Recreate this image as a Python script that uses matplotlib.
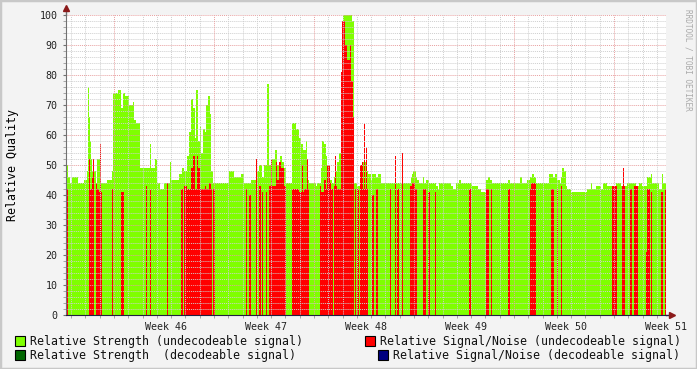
import numpy as np
import matplotlib.pyplot as plt
from matplotlib.patches import Rectangle

# one sample per pixel column: 600 samples over 6 weeks
STEP = 42 / 600  # days per sample

# Relative Strength (undecodeable signal): run-length steps (start sample, value)
green_start = [0, 2, 4, 6, 12, 18, 21, 22, 23, 24, 25, 26, 30, 31, 34, 41, 46, 47, 52, 55,
               57, 59, 63, 67, 68, 70, 74, 84, 85, 89, 91, 94, 98, 104, 105, 113, 116, 118, 121, 123,
               125, 127, 129, 130, 132, 134, 135, 137, 139, 140, 142, 144, 145, 147, 163, 168, 175, 178, 185, 190,
               193, 196, 198, 201, 203, 206, 209, 211, 214, 216, 218, 220, 226, 230, 233, 235, 237, 240, 241, 243,
               250, 251, 255, 256, 258, 260, 261, 263, 266, 268, 270, 271, 273, 275, 276, 277, 286, 288, 291, 295,
               296, 300, 302, 305, 306, 310, 312, 315, 345, 346, 347, 350, 351, 353, 357, 358, 360, 363, 370, 372,
               373, 385, 387, 390, 393, 395, 406, 412, 415, 420, 422, 424, 426, 442, 444, 454, 456, 461, 464, 466,
               468, 470, 483, 487, 489, 491, 494, 495, 496, 498, 500, 501, 505, 521, 525, 526, 530, 535, 537, 541,
               550, 555, 561, 570, 573, 576, 581, 585, 586, 593, 596, 597]
green_value = [50, 46, 44, 46, 44, 45, 48, 76, 66, 58, 52, 48, 44, 52, 44, 45, 48, 74, 75, 69,
               74, 73, 70, 71, 65, 64, 49, 57, 49, 52, 44, 42, 44, 51, 45, 47, 49, 48, 53, 61,
               72, 69, 59, 75, 58, 63, 54, 62, 61, 70, 73, 67, 48, 44, 48, 46, 47, 44, 45, 48,
               50, 46, 50, 77, 50, 52, 55, 50, 53, 51, 49, 44, 64, 62, 59, 57, 55, 58, 45, 44,
               43, 44, 49, 58, 57, 53, 50, 45, 44, 46, 48, 51, 54, 64, 94, 100, 98, 44, 43, 46,
               51, 48, 47, 45, 47, 46, 47, 44, 46, 47, 48, 46, 45, 44, 46, 44, 45, 44, 43, 42,
               44, 43, 42, 44, 45, 44, 43, 42, 41, 45, 46, 45, 44, 45, 44, 46, 44, 45, 46, 47,
               46, 44, 47, 46, 47, 45, 44, 46, 49, 48, 43, 42, 41, 42, 44, 42, 43, 42, 44, 43,
               44, 43, 44, 43, 44, 43, 46, 47, 44, 42, 47, 44]
green_end = 600

# Relative Signal/Noise (undecodeable signal): bars (start sample, end sample, value)
red_start = [0, 23, 24, 26, 27, 30, 31, 33, 34, 35, 46, 55, 80, 84, 101, 115, 118, 121, 125, 127,
             129, 131, 132, 134, 139, 140, 143, 145, 147, 180, 183, 190, 193, 196, 200, 203, 205, 206, 210, 211,
             213, 215, 218, 226, 233, 236, 237, 238, 241, 242, 254, 255, 258, 260, 261, 264, 265, 268, 269, 270,
             271, 275, 276, 279, 281, 284, 285, 287, 289, 291, 294, 296, 297, 298, 299, 300, 301, 306, 310, 324,
             329, 331, 336, 344, 346, 349, 357, 362, 369, 403, 420, 425, 442, 464, 465, 485, 491, 495, 546, 556,
             557, 558, 564, 568, 580, 581, 585, 595, 599]
red_end = [2, 24, 26, 27, 28, 31, 33, 34, 35, 36, 47, 58, 81, 85, 102, 117, 121, 125, 127, 129,
           131, 132, 134, 139, 140, 143, 145, 146, 149, 181, 185, 191, 195, 197, 201, 205, 206, 210, 211, 213,
           215, 218, 220, 233, 236, 237, 238, 241, 242, 243, 255, 258, 260, 261, 264, 265, 267, 269, 270, 271,
           275, 276, 279, 281, 284, 285, 287, 288, 290, 293, 296, 297, 298, 299, 300, 301, 302, 308, 312, 325,
           330, 333, 337, 346, 349, 351, 360, 364, 370, 405, 423, 426, 444, 465, 470, 488, 492, 496, 551, 557,
           558, 559, 566, 572, 581, 584, 586, 597, 600]
red_value = [42, 52, 42, 46, 52, 44, 42, 41, 57, 41, 42, 41, 43, 42, 44, 42, 43, 42, 49, 53,
             42, 53, 49, 42, 43, 42, 44, 42, 42, 42, 40, 52, 43, 41, 41, 43, 52, 43, 51, 45,
             51, 49, 43, 42, 41, 50, 41, 42, 52, 42, 43, 41, 45, 42, 50, 44, 42, 43, 53, 43,
             42, 81, 98, 90, 85, 90, 78, 66, 42, 42, 50, 51, 42, 64, 42, 56, 42, 40, 42, 42,
             53, 42, 54, 43, 44, 42, 42, 41, 41, 42, 42, 42, 42, 42, 44, 42, 42, 43, 43, 43,
             49, 43, 42, 43, 21, 42, 41, 41, 42]

week_labels = ["Week 46", "Week 47", "Week 48", "Week 49", "Week 50", "Week 51"]
week_pos = [7, 14, 21, 28, 35, 42]

W, H = 697, 369
BG = "#f3f3f3"
MONO = "DejaVu Sans Mono"
fig = plt.figure(figsize=(W / 100, H / 100), dpi=100, facecolor=BG)
ax = fig.add_axes([66 / W, 1 - 315 / H, 600 / W, 300 / H])
ax.set_facecolor("white")

edges = np.array(green_start + [green_end]) * STEP
ax.stairs(green_value, edges, fill=True, baseline=0, color="#7fff00", lw=0,
          antialiased=False, zorder=2)
rs = np.array(red_start)
re = np.array(red_end)
ax.bar(rs * STEP, red_value, width=(re - rs) * STEP, align="edge", color="#ff0000",
       linewidth=0, antialiased=False, zorder=3)

ax.set_xlim(0, 42)
ax.set_ylim(0, 100)

# grid drawn over the data, rrdtool style
dots = (0, (1, 1))
for v in range(2, 100, 2):
    if v % 10:
        ax.axhline(v, color="#cfcfcf", lw=0.7, ls=dots, zorder=4)
for v in range(10, 101, 10):
    ax.axhline(v, color="#e8a0a0", lw=0.7, ls=dots, zorder=4)
day_lines = np.arange(0.36, 42, 1.0)
for d in day_lines:
    if abs((d - 3.36) % 7) < 1e-6 or abs((d - 3.36) % 7 - 7) < 1e-6:
        ax.axvline(d, color="#e8a0a0", lw=0.7, ls=dots, zorder=4)
    else:
        ax.axvline(d, color="#cfcfcf", lw=0.7, ls=dots, zorder=4)

for s in ["top", "right"]:
    ax.spines[s].set_visible(False)
ax.spines["left"].set_color("#707070")
ax.spines["bottom"].set_color("#202040")
ax.spines["left"].set_zorder(6)
ax.spines["bottom"].set_zorder(6)

ax.set_xticks(week_pos)
ax.set_xticklabels(week_labels)
ax.set_xticks(day_lines, minor=True)
ax.set_yticks(range(0, 101, 10))
ax.set_yticks(range(0, 101, 2), minor=True)
ax.tick_params(axis="both", which="major", labelsize=7.2, length=0, pad=5,
               labelcolor="#222222")
ax.tick_params(axis="y", which="major", length=2, color="#707070", pad=4)
ax.tick_params(axis="both", which="minor", length=2, color="#999999")
for lab in ax.get_xticklabels() + ax.get_yticklabels():
    lab.set_family(MONO)

ax.set_ylabel("Relative Quality", family=MONO, fontsize=8.4)
ax.yaxis.set_label_coords(-47 / 600, 0.5)

# axis arrows
ax.plot([0, 0], [1, 1.01], transform=ax.transAxes, color="#707070", lw=1, clip_on=False)
ax.plot([0], [1.025], marker="^", ms=4.5, color="#8b1a1a", transform=ax.transAxes, clip_on=False)
ax.plot([1, 1.006], [0, 0], transform=ax.transAxes, color="#202040", lw=1, clip_on=False)
ax.plot([1.01], [0], marker=">", ms=4.5, color="#8b1a1a", transform=ax.transAxes, clip_on=False)

fig.text(688 / W, 1 - 60 / H, "RRDTOOL / TOBI OETIKER", rotation=270, ha="center", va="center",
         family=MONO, fontsize=5.6, color="#aaaaaa")

# legend
legend = [
    (15, 336, "#7fff00", 30, "Relative Strength (undecodeable signal)"),
    (365, 336, "#ff0000", 380, "Relative Signal/Noise (undecodeable signal)"),
    (15, 350, "#006600", 30, "Relative Strength  (decodeable signal)"),
    (378, 350, "#000080", 393, "Relative Signal/Noise (decodeable signal)"),
]
for sx, sy, col, tx, txt in legend:
    fig.patches.append(Rectangle((sx / W, 1 - (sy + 10) / H), 10 / W, 10 / H,
                                 transform=fig.transFigure, facecolor=col,
                                 edgecolor="black", lw=0.8))
    fig.text(tx / W, 1 - (sy + 5) / H, txt, ha="left", va="center",
             family=MONO, fontsize=8.4, color="#111111")

# frame around the image
fig.patches.append(Rectangle((0, 0), 1, 1, transform=fig.transFigure, fill=False,
                             edgecolor="#c8c8c8", lw=2.5))

fig.savefig("out.png", dpi=100, facecolor=BG)
